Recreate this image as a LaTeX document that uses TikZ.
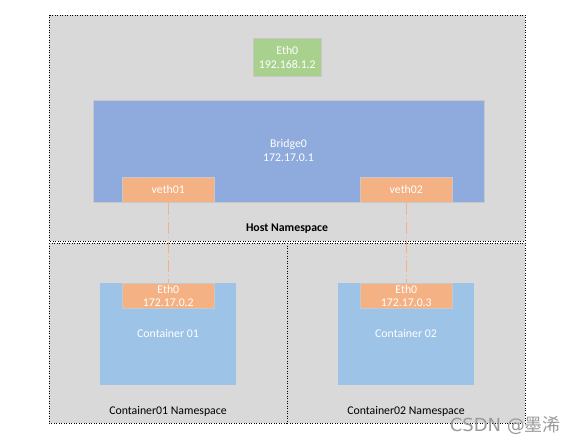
\documentclass[tikz,border=0pt]{standalone}
\usepackage{fontspec}
\setmainfont{Carlito}
\newfontfamily\cjk{Noto Sans CJK SC}
\newfontfamily\wmfont{DejaVu Sans}
\definecolor{nsgray}{HTML}{D9D9D9}
\definecolor{ethgreen}{HTML}{A9D18E}
\definecolor{brblue}{HTML}{8FAADC}
\definecolor{ctblue}{HTML}{9DC3E6}
\definecolor{vorange}{HTML}{F4B183}
\definecolor{edge}{HTML}{C8C8C8}
\definecolor{wmgray}{HTML}{9A9A9A}
\begin{document}
\begin{tikzpicture}[x=1pt,y=-1pt,
  nsbox/.style={fill=nsgray, draw=black, line width=0.9pt, dash pattern=on 0.9pt off 1.6pt},
  devbox/.style={draw=edge, line width=0.6pt, inner sep=0pt, text=white, font=\fontsize{11.8}{14}\selectfont, align=center, anchor=north west},
  nslabel/.style={font=\fontsize{11.8}{12}\selectfont, text=black},
  link/.style={draw=vorange, line width=0.9pt, dash pattern=on 12pt off 3pt on 1pt off 3pt}
]
\useasboundingbox (0,0) rectangle (574,444);
\fill[white] (0,0) rectangle (574,444);
% namespaces
\path[nsbox] (49,15) rectangle (525,241);
\path[nsbox] (49,243) rectangle (287,423);
\path[nsbox] (287,243) rectangle (525,423);
% host devices
\node[devbox, fill=ethgreen, minimum width=68pt, minimum height=38pt] (eth0) at (253,38) {Eth0\\192.168.1.2};
\node[devbox, fill=brblue, minimum width=391pt, minimum height=102pt] (bridge) at (93,100) {};
\node[text=white, font=\fontsize{11.8}{14}\selectfont, align=center] (brtext) at (288.5,150) {Bridge0\\172.17.0.1};
\node[devbox, fill=vorange, minimum width=92pt, minimum height=25pt] (veth1) at (122,177) {veth01};
\node[devbox, fill=vorange, minimum width=92pt, minimum height=25pt] (veth2) at (360,177) {veth02};
\node[nslabel, font=\fontsize{11.8}{12}\selectfont\bfseries] (hostns) at (287,229) {Host Namespace};
% containers
\node[devbox, draw=none, fill=ctblue, minimum width=136pt, minimum height=102pt] (c1) at (100,283) {};
\node[devbox, draw=none, fill=ctblue, minimum width=136pt, minimum height=102pt] (c2) at (338,283) {};
\node[devbox, fill=vorange, minimum width=92pt, minimum height=25pt, font=\fontsize{11.8}{13.5}\selectfont] (ce1) at (122,283) {Eth0\\172.17.0.2};
\node[devbox, fill=vorange, minimum width=92pt, minimum height=25pt, font=\fontsize{11.8}{13.5}\selectfont] (ce2) at (360,283) {Eth0\\172.17.0.3};
\node[text=white, font=\fontsize{11.8}{12}\selectfont] (c1t) at (168,333) {Container 01};
\node[text=white, font=\fontsize{11.8}{12}\selectfont] (c2t) at (406,333) {Container 02};
\node[nslabel] (ns1) at (168,411) {Container01 Namespace};
\node[nslabel] (ns2) at (406,411) {Container02 Namespace};
% links
\draw[link] (veth1.south) -- (ce1.north);
\draw[link] (veth2.south) -- (ce2.north);
% watermark
\node[text=wmgray, font=\fontsize{18}{20}\selectfont, anchor=east, inner sep=0pt] (wm) at (561,425) {{\wmfont CSDN @}{\cjk 墨浠}};
\end{tikzpicture}
\end{document}
